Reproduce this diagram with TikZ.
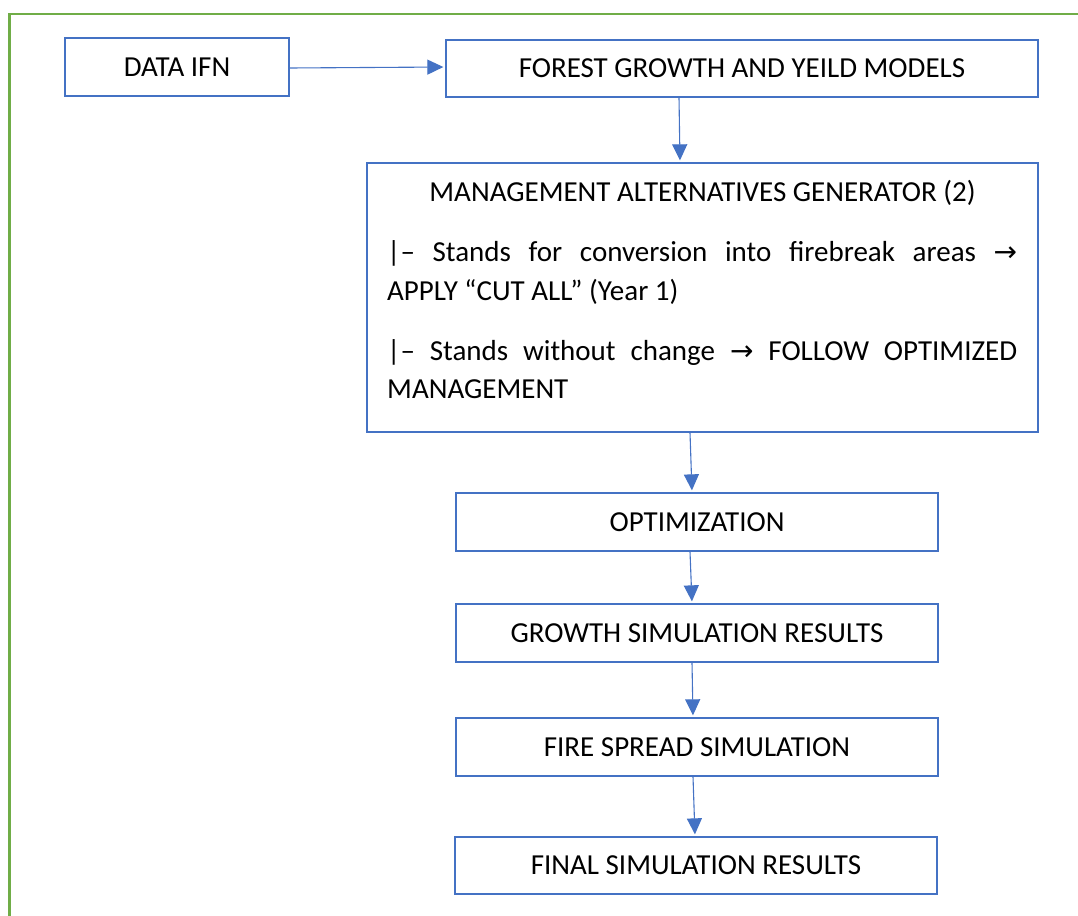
\documentclass[tikz,border=0pt]{standalone}
\usepackage{fontspec}
\setmainfont{Carlito}
\newfontfamily\arrowfont{DejaVu Sans}
\usetikzlibrary{arrows.meta}
\definecolor{boxblue}{HTML}{4472C4}
\definecolor{framegreen}{HTML}{70AD47}
\newcommand{\rarr}{{\arrowfont\fontsize{28}{28}\selectfont →}}
\begin{document}
\begin{tikzpicture}[x=1pt,y=-1pt,
  box/.style={draw=boxblue,line width=1.3pt,fill=white,inner sep=0pt,
    font=\fontsize{29}{35}\selectfont},
  conn/.style={draw=boxblue,line width=1.1pt,shorten >=2pt,
    -{Triangle[length=16pt,width=15pt]}},
  txt/.style={inner sep=0pt,font=\fontsize{29}{35}\selectfont},
  frame/.style={draw=framegreen,line width=2.8pt}]
\path[use as bounding box] (0,0) rectangle (1078,915);
\clip (0,0) rectangle (1078,915);
\draw[frame] (9.5,940) -- (9.5,14) -- (1100,14);

\node[box,minimum width=224pt,minimum height=58pt] (data) at (177,67) {DATA IFN};
\node[box,minimum width=592pt,minimum height=57pt] (forest) at (742,68.5) {FOREST GROWTH AND YEILD MODELS};
\node[box,minimum width=671pt,minimum height=269pt] (mgmt) at (702.5,297.5) {};
\node[txt,anchor=base] (mgt0) at (702.5,201) {MANAGEMENT ALTERNATIVES GENERATOR (2)};
\node[txt,anchor=base west] (mgt1) at (387,261) {\makebox[630pt][s]{|– Stands for conversion into firebreak areas \rarr}};
\node[txt,anchor=base west] (mgt2) at (387,300) {APPLY “CUT ALL” (Year 1)};
\node[txt,anchor=base west] (mgt3) at (387,360) {\makebox[630pt][s]{|– Stands without change \rarr{} FOLLOW OPTIMIZED}};
\node[txt,anchor=base west] (mgt4) at (387,398) {MANAGEMENT};
\node[box,minimum width=482pt,minimum height=58pt] (opt) at (697,522) {OPTIMIZATION};
\node[box,minimum width=482pt,minimum height=58pt] (growth) at (697,633) {GROWTH SIMULATION RESULTS};
\node[box,minimum width=482pt,minimum height=58pt] (fire) at (697,747) {FIRE SPREAD SIMULATION};
\node[box,minimum width=482pt,minimum height=57pt] (final) at (696,865.5) {FINAL SIMULATION RESULTS};

\draw[conn] ([yshift=-1pt]data.east) -- ([yshift=1.5pt]forest.west);
\draw[conn] ([xshift=-63pt]forest.south) -- ([xshift=-22.5pt]mgmt.north);
\draw[conn] ([xshift=-12.5pt]mgmt.south) -- ([xshift=-5pt]opt.north);
\draw[conn] ([xshift=-7pt]opt.south) -- ([xshift=-5pt]growth.north);
\draw[conn] ([xshift=-5pt]growth.south) -- ([xshift=-4pt]fire.north);
\draw[conn] ([xshift=-4pt]fire.south) -- ([xshift=-1pt]final.north);
\end{tikzpicture}
\end{document}
